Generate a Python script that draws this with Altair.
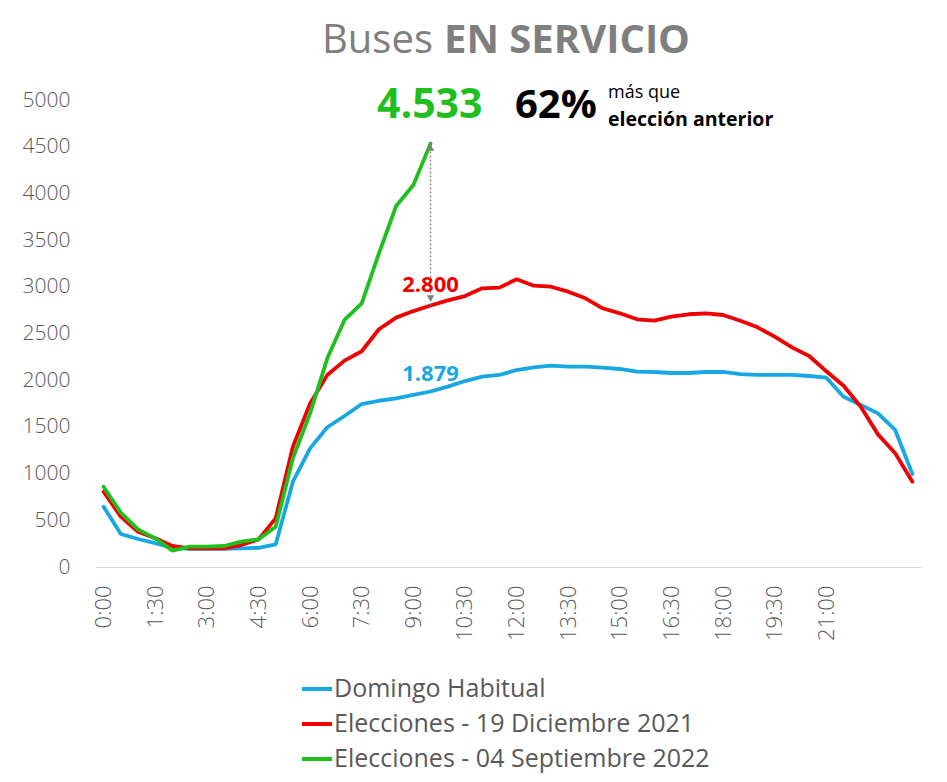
import altair as alt
import pandas as pd

times = ["0:00", "0:30", "1:00", "1:30", "2:00", "2:30", "3:00", "3:30", "4:00", "4:30",
         "5:00", "5:30", "6:00", "6:30", "7:00", "7:30", "8:00", "8:30", "9:00", "9:30",
         "10:00", "10:30", "11:00", "11:30", "12:00", "12:30", "13:00", "13:30", "14:00", "14:30",
         "15:00", "15:30", "16:00", "16:30", "17:00", "17:30", "18:00", "18:30", "19:00", "19:30",
         "20:00", "20:30", "21:00", "21:30", "22:00", "22:30", "23:00", "23:30"]
tick_labels = ["0:00", "1:30", "3:00", "4:30", "6:00", "7:30", "9:00", "10:30", "12:00",
               "13:30", "15:00", "16:30", "18:00", "19:30", "21:00"]
y_ticks = [0, 500, 1000, 1500, 2000, 2500, 3000, 3500, 4000, 4500, 5000]

domingo = [645, 353, 300, 255, 205, 195, 195, 195, 200, 205,
           243, 913, 1270, 1496, 1617, 1745, 1780, 1806, 1842, 1879,
           1931, 1991, 2038, 2056, 2109, 2138, 2155, 2145, 2145, 2134,
           2120, 2091, 2088, 2077, 2077, 2088, 2088, 2066, 2056, 2056,
           2056, 2045, 2027, 1823, 1734, 1645, 1467, 996]
dic2021 = [806, 539, 378, 307, 225, 200, 200, 200, 235, 296,
           521, 1288, 1752, 2056, 2210, 2310, 2545, 2670, 2740, 2800,
           2855, 2901, 2984, 2991, 3080, 3012, 3001, 2948, 2877, 2770,
           2716, 2652, 2637, 2680, 2706, 2716, 2698, 2637, 2566, 2466,
           2352, 2259, 2095, 1940, 1716, 1420, 1218, 913]
sep2022 = [860, 582, 403, 307, 175, 218, 218, 225, 271, 296,
           431, 1164, 1645, 2234, 2645, 2823, 3359, 3865, 4090, 4533]

series_names = ["Domingo Habitual", "Elecciones - 19 Diciembre 2021", "Elecciones - 04 Septiembre 2022"]
series_colors = ["#17A8E3", "#F00000", "#1FBF1F"]
series_values = [domingo, dic2021, sep2022]

FONT = "Open Sans"
GRAY = "#595959"

rows = []
for name, vals in zip(series_names, series_values):
    for t, v in zip(times, vals):
        rows.append({"serie": name, "hora": t, "buses": v})
df = pd.DataFrame(rows)

def fmt(v):
    return f"{v:,}".replace(",", ".")

ref_idx = len(sep2022) - 1
ref_time = times[ref_idx]

x_enc = alt.X("hora:N", sort=times,
              scale=alt.Scale(type="point", domain=times, padding=0.5),
              axis=alt.Axis(values=tick_labels, title=None, labelAngle=270, labelAlign="right",
                            labelBaseline="middle", labelPadding=18, ticks=False, grid=False,
                            domainColor="#D9D9D9", domainWidth=1.2, labelFont=FONT,
                            labelFontSize=22, labelFontWeight=300, labelColor=GRAY))
y_enc = alt.Y("buses:Q", scale=alt.Scale(domain=[0, 5000], nice=False),
              axis=alt.Axis(values=y_ticks, format="d", title=None, domain=False, ticks=False,
                            grid=False, labelPadding=25, labelFont=FONT, labelFontSize=21,
                            labelFontWeight=300, labelColor=GRAY))
color_enc = alt.Color("serie:N",
                      scale=alt.Scale(domain=series_names, range=series_colors),
                      legend=alt.Legend(orient="none", legendX=205, legendY=572, title=None,
                                        direction="vertical", symbolType="stroke",
                                        symbolSize=900, symbolStrokeWidth=4,
                                        labelFont=FONT, labelFontSize=25, labelColor=GRAY,
                                        labelOffset=0, rowPadding=5, padding=0,
                                        labelLimit=600))

base = alt.Chart(df)
lines = [
    base.transform_filter(alt.datum.serie == name).mark_line(
        strokeWidth=3.8, strokeJoin="round", strokeCap="round"
    ).encode(x=x_enc, y=y_enc, color=color_enc)
    for name in series_names
]

# arrow between green peak and red at the same hour
arrow_df = pd.DataFrame({"hora": [ref_time], "top": [sep2022[ref_idx]], "bottom": [dic2021[ref_idx]]})
arrow_rule = alt.Chart(arrow_df).mark_rule(color="#7F7F7F", strokeWidth=1.2, strokeDash=[2, 2]).encode(
    x=alt.X("hora:N", sort=times, scale=alt.Scale(type="point", domain=times, padding=0.5)),
    y=alt.Y("top:Q"), y2="bottom:Q")
arrow_up = alt.Chart(arrow_df).mark_point(shape="triangle-up", filled=True, size=55,
                                          color="#7F7F7F", opacity=1).encode(
    x=alt.X("hora:N", sort=times), y=alt.Y("top:Q"), yOffset=alt.value(4))
arrow_down = alt.Chart(arrow_df).mark_point(shape="triangle-down", filled=True, size=55,
                                            color="#7F7F7F", opacity=1).encode(
    x=alt.X("hora:N", sort=times), y=alt.Y("bottom:Q"), yOffset=alt.value(-7))

red_lab = alt.Chart(pd.DataFrame({"hora": [ref_time], "v": [dic2021[ref_idx]],
                                  "t": [fmt(dic2021[ref_idx])]})).mark_text(
    font=FONT, fontSize=22, fontWeight="bold", color="#F00000", baseline="alphabetic",
    align="center", dy=-13).encode(x=alt.X("hora:N", sort=times), y="v:Q", text="t:N")
blue_lab = alt.Chart(pd.DataFrame({"hora": [ref_time], "v": [domingo[ref_idx]],
                                   "t": [fmt(domingo[ref_idx])]})).mark_text(
    font=FONT, fontSize=22, fontWeight="bold", color="#17A8E3", baseline="alphabetic",
    align="center", dy=-11).encode(x=alt.X("hora:N", sort=times), y="v:Q", text="t:N")

def label(text, x, y, size, weight="normal", color="black"):
    return alt.Chart(pd.DataFrame({"t": [text]})).mark_text(
        font=FONT, fontSize=size, fontWeight=weight, color=color, align="left",
        baseline="alphabetic").encode(x=alt.value(x), y=alt.value(y), text="t:N")

pct = round((sep2022[ref_idx] / dic2021[ref_idx] - 1) * 100)

texts = [
    label("Buses", 227, -47, 40, "normal", "#7F7F7F"),
    label("EN SERVICIO", 349, -47, 40, "bold", "#7F7F7F"),
    label(fmt(sep2022[ref_idx]), 282, 18, 41, "bold", "#1FBF1F"),
    label(f"{pct}%", 420, 18, 40, "bold", "black"),
    label("más que", 513, -2, 18, "normal", "black"),
    label("elección anterior", 513, 26, 19.5, "bold", "black"),
]

chart = alt.layer(*lines, arrow_rule, arrow_up, arrow_down, red_lab, blue_lab, *texts).properties(
    width=826, height=467,
    autosize=alt.AutoSizeParams(type="none"),
    padding={"left": 95, "top": 100, "right": 26, "bottom": 215},
    background="white",
).configure_view(stroke=None)

chart.save("out.html", embed_options={"renderer": "svg", "actions": False})
